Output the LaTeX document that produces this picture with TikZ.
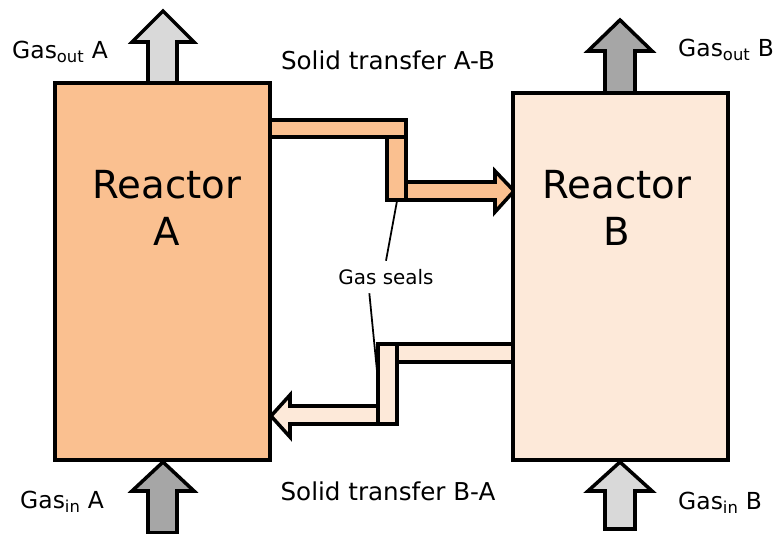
\documentclass[tikz,border=0pt]{standalone}
\usepackage{fontspec}
\setmainfont{DejaVu Sans}
\definecolor{orangeA}{HTML}{FAC090}
\definecolor{peachB}{HTML}{FDE9D9}
\definecolor{lightgas}{HTML}{D9D9D9}
\definecolor{darkgas}{HTML}{A6A6A6}
\begin{document}
\begin{tikzpicture}[x=0.03cm,y=-0.03cm,line join=miter,
  wall/.style={draw=black,line width=3pt},
  leader/.style={line width=1.5pt},
  lbl/.style={font=\fontsize{20}{24}\selectfont,inner sep=0pt},
  big/.style={font=\fontsize{33}{40}\selectfont,align=center,inner sep=0pt}]
\useasboundingbox (0,0) rectangle (773,534);
% gas in and out
\draw[wall,fill=lightgas] (148,83)--(148,42)--(132,42)--(163,11)--(194,42)--(177,42)--(177,83)--cycle;
\draw[wall,fill=darkgas] (605,93)--(605,51)--(588,51)--(620,20)--(652,51)--(635,51)--(635,93)--cycle;
\draw[wall,fill=darkgas] (148,533)--(148,491)--(132,491)--(163,462)--(194,491)--(177,491)--(177,533)--cycle;
\draw[wall,fill=lightgas] (605,529)--(605,491)--(588,491)--(620,462)--(652,491)--(635,491)--(635,529)--cycle;
% solid transfer A-B
\draw[wall,fill=orangeA] (270,120) rectangle (406,137);
\draw[wall,fill=orangeA] (387,137) rectangle (406,200);
\draw[wall,fill=orangeA] (406,182)--(495,182)--(495,171)--(514,191)--(495,212)--(495,200)--(406,200)--cycle;
% solid transfer B-A
\draw[wall,fill=peachB] (397,344) rectangle (513,362);
\draw[wall,fill=peachB] (378,344) rectangle (397,424);
\draw[wall,fill=peachB] (378,406)--(290,406)--(290,395)--(271,416)--(290,437)--(290,424)--(378,424)--cycle;
% reactors
\draw[wall,fill=orangeA] (55,83) rectangle (270,460);
\draw[wall,fill=peachB] (513,93) rectangle (728,460);
\node[big] (reactA) at (167,208) {Reactor\\A};
\node[big] (reactB) at (617,208) {Reactor\\B};
% labels
\node[lbl,anchor=west] (outA) at (12,52) {Gas\textsubscript{out} A};
\node[lbl,anchor=west] (outB) at (678,50) {Gas\textsubscript{out} B};
\node[lbl,anchor=west] (inA) at (20,502) {Gas\textsubscript{in} A};
\node[lbl,anchor=west] (inB) at (678,503) {Gas\textsubscript{in} B};
\node[lbl,font=\fontsize{21}{24}\selectfont] (transAB) at (388,60) {Solid transfer A-B};
\node[lbl,font=\fontsize{21}{24}\selectfont] (transBA) at (388,491) {Solid transfer B-A};
\node[lbl,font=\fontsize{17}{20}\selectfont,inner ysep=0.25cm] (seals) at (386,277) {Gas seals};
\coordinate (sealAB) at (397,201);
\coordinate (sealBA) at (378,381);
\draw[leader] (seals.north) -- (sealAB);
\draw[leader] ([xshift=-0.5cm]seals.south) -- (sealBA);
\end{tikzpicture}
\end{document}
